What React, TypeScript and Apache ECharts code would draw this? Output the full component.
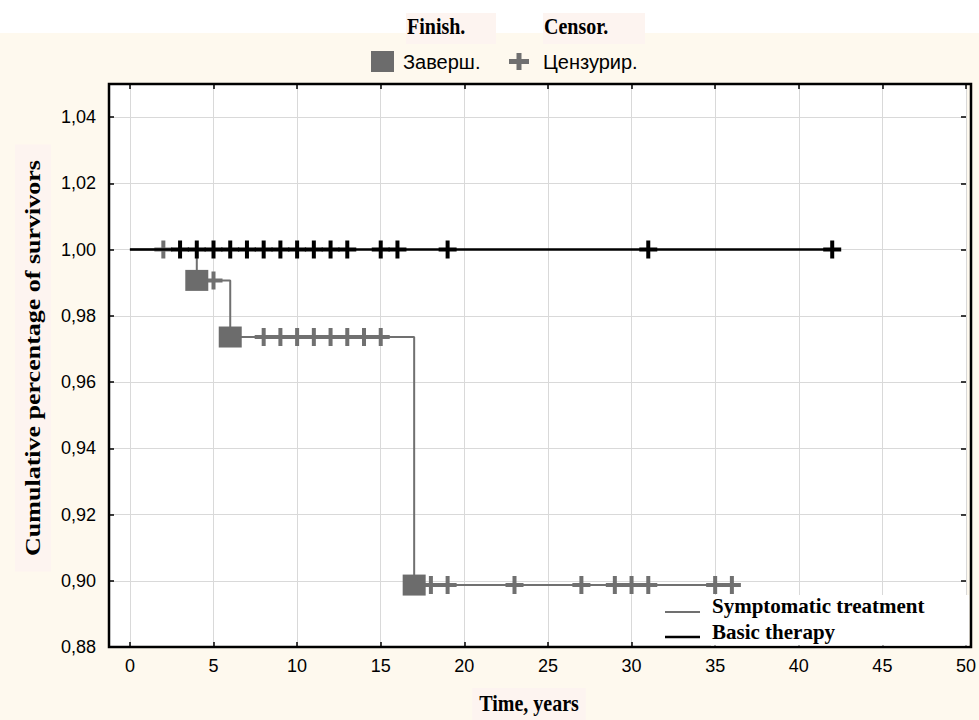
import React, { useEffect, useRef } from 'react';
import * as echarts from 'echarts';

// Kaplan–Meier step data (time in years, cumulative survival)
const symTimes = [0, 4, 6, 17, 36];
const symSurv = [1.0, 0.9907, 0.9736, 0.8987, 0.8987];
const symEventTimes = [4, 6, 17];
const symEventSurv = [0.9907, 0.9736, 0.8987];
const symCensorTimes = [2, 5, 8, 9, 10, 11, 12, 13, 14, 15, 18, 19, 23, 27, 29, 30, 31, 35, 36];
const symCensorSurv = [1.0, 0.9907, 0.9736, 0.9736, 0.9736, 0.9736, 0.9736, 0.9736, 0.9736, 0.9736,
  0.8987, 0.8987, 0.8987, 0.8987, 0.8987, 0.8987, 0.8987, 0.8987, 0.8987];

const basicTimes = [0, 42];
const basicSurv = [1.0, 1.0];
const basicCensorTimes = [3, 4, 5, 6, 7, 8, 9, 10, 11, 12, 13, 15, 16, 19, 31, 42];
const basicCensorSurv = [1, 1, 1, 1, 1, 1, 1, 1, 1, 1, 1, 1, 1, 1, 1, 1];

const xTicks = [0, 5, 10, 15, 20, 25, 30, 35, 40, 45, 50];
const yTicks = [0.88, 0.9, 0.92, 0.94, 0.96, 0.98, 1.0, 1.02, 1.04];

const seriesNames = ['Symptomatic treatment', 'Basic therapy'];
const markerNames = ['Заверш.', 'Цензурир.'];
const headerNames = ['Finish.', 'Censor.'];
const xTitle = 'Time, years';
const yTitle = 'Cumulative percentage of survivors';

const PLUS = 'path://M7,0h4v7h7v4h-7v7h-4v-7h-7v-4h7z';
const GRAY = '#707070';
const CREAM = '#fef9ee';
const PINK = '#fdf4f0';
const SERIF = '"Liberation Serif", "Times New Roman", serif';
const SANS = '"Liberation Sans", Arial, sans-serif';

const zip = (a: number[], b: number[]) => a.map((v, i) => [v, b[i]]);

export default function App() {
  const ref = useRef<HTMLDivElement>(null);
  useEffect(() => {
    if (!ref.current) return;
    const chart = echarts.init(ref.current, null, { renderer: 'svg' });
    const noLine = { show: false, onZero: false };
    const tick = (vals: number[]) => ({
      show: true, inside: true, length: 5, customValues: vals, lineStyle: { color: '#000', width: 1.5 },
    });
    chart.setOption({
      animation: false,
      backgroundColor: CREAM,
      grid: {
        left: 109, right: 8, top: 84, bottom: 73,
        show: true, backgroundColor: '#ffffff', borderWidth: 0,
      },
      xAxis: [
        {
          type: 'value', min: -1.25, max: 50, position: 'bottom', axisLine: noLine,
          axisTick: tick(xTicks),
          axisLabel: { customValues: xTicks, color: '#000', fontFamily: SANS, fontSize: 18, margin: 10 },
          splitLine: { show: true, lineStyle: { color: '#d9d9d9', width: 1 } },
        },
        {
          type: 'value', min: -1.25, max: 50, position: 'top', axisLine: noLine,
          axisTick: tick(xTicks),
          axisLabel: { show: false },
          splitLine: { show: false },
        },
      ],
      yAxis: [
        {
          type: 'value', min: 0.88, max: 1.05, position: 'left', axisLine: noLine,
          axisTick: tick(yTicks),
          axisLabel: {
            customValues: yTicks, color: '#000', fontFamily: SANS, fontSize: 18, margin: 13,
            formatter: (v: number) => v.toFixed(2).replace('.', ','),
          },
          splitLine: { show: true, lineStyle: { color: '#d9d9d9', width: 1 } },
        },
        {
          type: 'value', min: 0.88, max: 1.05, position: 'right', axisLine: noLine,
          axisTick: tick(yTicks),
          axisLabel: { show: false },
          splitLine: { show: false },
        },
      ],
      series: [
        {
          name: seriesNames[0], type: 'line', step: 'end', data: zip(symTimes, symSurv),
          symbol: 'none', lineStyle: { color: GRAY, width: 2 }, z: 2,
        },
        {
          name: seriesNames[0] + ' ' + markerNames[1], type: 'scatter', data: zip(symCensorTimes, symCensorSurv),
          symbol: PLUS, symbolSize: [18, 18], itemStyle: { color: GRAY, opacity: 1 }, z: 3,
        },
        {
          name: seriesNames[0] + ' ' + markerNames[0], type: 'scatter', data: zip(symEventTimes, symEventSurv),
          symbol: 'rect', symbolSize: [23, 21], itemStyle: { color: '#6c6c6c', opacity: 1 }, z: 4,
        },
        {
          name: seriesNames[1], type: 'line', data: zip(basicTimes, basicSurv),
          symbol: 'none', lineStyle: { color: '#000', width: 2.5 }, z: 5,
        },
        {
          name: seriesNames[1] + ' ' + markerNames[1], type: 'scatter', data: zip(basicCensorTimes, basicCensorSurv),
          symbol: PLUS, symbolSize: [18, 18], itemStyle: { color: '#000', opacity: 1 }, z: 6,
        },
      ],
      graphic: [
        { type: 'rect', z: 0, shape: { x: 0, y: 0, width: 979, height: 33 }, style: { fill: '#ffffff' } },
        // header boxes
        { type: 'rect', z: 1, shape: { x: 406, y: 13, width: 90, height: 31 }, style: { fill: PINK } },
        { type: 'rect', z: 1, shape: { x: 543, y: 13, width: 102, height: 31 }, style: { fill: PINK } },
        {
          type: 'text', z: 2, x: 407, y: 27, scaleY: 1.15,
          style: { text: headerNames[0], font: `bold 20px ${SERIF}`, fill: '#000', verticalAlign: 'middle' },
        },
        {
          type: 'text', z: 2, x: 544, y: 27, scaleY: 1.15,
          style: { text: headerNames[1], font: `bold 20px ${SERIF}`, fill: '#000', verticalAlign: 'middle' },
        },
        // marker legend
        { type: 'rect', z: 2, shape: { x: 371, y: 51, width: 23, height: 21 }, style: { fill: '#6c6c6c' } },
        {
          type: 'text', z: 2, x: 403, y: 62,
          style: { text: markerNames[0], font: `20px ${SANS}`, fill: '#000', verticalAlign: 'middle' },
        },
        { type: 'rect', z: 2, shape: { x: 509, y: 59, width: 20, height: 5 }, style: { fill: GRAY } },
        { type: 'rect', z: 2, shape: { x: 516.5, y: 53, width: 5, height: 17 }, style: { fill: GRAY } },
        {
          type: 'text', z: 2, x: 543, y: 62,
          style: { text: markerNames[1], font: `20px ${SANS}`, fill: '#000', verticalAlign: 'middle' },
        },
        // axis titles
        {
          type: 'text', z: 2, x: 529, y: 704, scaleY: 1.15,
          style: {
            text: xTitle, font: `bold 20px ${SERIF}`, fill: '#000', align: 'center', verticalAlign: 'middle',
            backgroundColor: PINK, padding: [4, 7, 4, 7],
          },
        },
        {
          type: 'text', z: 2, x: 33, y: 358, rotation: Math.PI / 2, scaleX: 1.3,
          style: {
            text: yTitle, font: `bold 20px ${SERIF}`, fill: '#000',
            align: 'center', verticalAlign: 'middle', backgroundColor: PINK, padding: [8, 12, 8, 12],
          },
        },
        // plot frame
        {
          type: 'rect', z: 90, silent: true, shape: { x: 109, y: 84, width: 862, height: 563 },
          style: { fill: 'none', stroke: '#000', lineWidth: 2.5 },
        },
        // series legend (bottom right)
        { type: 'rect', z: 100, shape: { x: 711, y: 595, width: 258, height: 50.5 }, style: { fill: '#ffffff' } },
        { type: 'line', z: 101, shape: { x1: 665, y1: 612, x2: 700, y2: 612 }, style: { stroke: GRAY, lineWidth: 2 } },
        { type: 'line', z: 101, shape: { x1: 665, y1: 637, x2: 700, y2: 637 }, style: { stroke: '#000', lineWidth: 2.5 } },
        {
          type: 'text', z: 101, x: 712, y: 606,
          style: { text: seriesNames[0], font: `bold 21px ${SERIF}`, fill: '#000', verticalAlign: 'middle' },
        },
        {
          type: 'text', z: 101, x: 712, y: 632,
          style: { text: seriesNames[1], font: `bold 21px ${SERIF}`, fill: '#000', verticalAlign: 'middle' },
        },
      ],
    });
    return () => chart.dispose();
  }, []);
  return (
    <div
      ref={ref}
      style={{ position: 'fixed', left: 0, top: 0, width: 979, height: 720 }}
    />
  );
}
